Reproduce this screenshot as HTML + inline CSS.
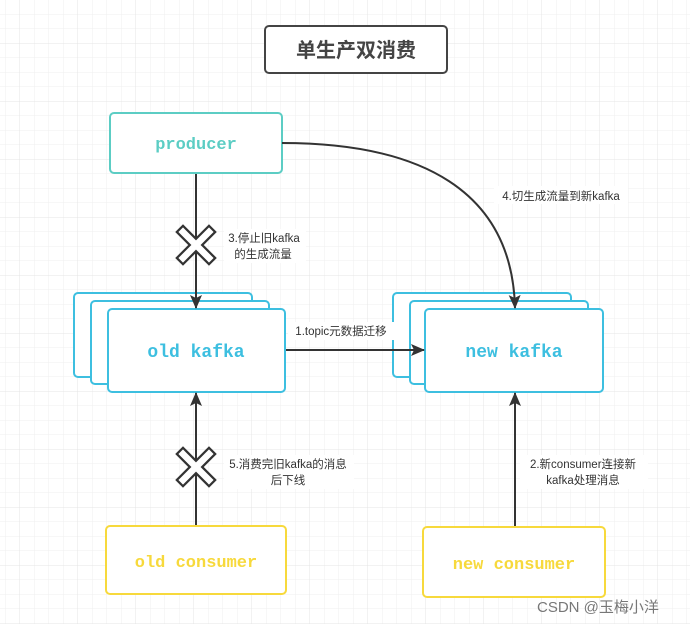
<!DOCTYPE html>
<html><head><meta charset="utf-8"><style>
html,body{margin:0;padding:0;background:#fff}
svg{display:block}
text{font-family:"Liberation Sans","Noto Sans CJK SC",sans-serif}
text.m{font-family:"Liberation Mono","DejaVu Sans Mono",monospace}
</style></head><body>
<svg width="690" height="624" viewBox="0 0 690 624" xmlns="http://www.w3.org/2000/svg">
<defs>
<pattern id="g" x="5" y="14" width="14.5" height="14.5" patternUnits="userSpaceOnUse">
<path d="M0 0H14.5M0 0V14.5" stroke="#efefef" stroke-width="1" fill="none"/>
</pattern>
<pattern id="G" x="19.5" y="43" width="58" height="58" patternUnits="userSpaceOnUse">
<path d="M0 0H58M0 0V58" stroke="#e4e4e4" stroke-width="1" fill="none"/>
</pattern>
<marker id="a" markerWidth="14" markerHeight="12" refX="13" refY="6" orient="auto" markerUnits="userSpaceOnUse">
<path d="M0 0L14 6L0 12L3 6Z" fill="#333"/>
</marker>
</defs>
<rect width="690" height="624" fill="url(#g)"/>
<rect width="690" height="624" fill="url(#G)"/>

<!-- title -->
<rect x="265" y="26" width="182" height="47" rx="4" fill="#fff" stroke="#444" stroke-width="2"/>
<text x="356" y="57" text-anchor="middle" font-size="20" font-weight="bold" fill="#444">单生产双消费</text>

<!-- producer -->
<rect x="110" y="113" width="172" height="60" rx="4" fill="#fff" stroke="#5ccdc4" stroke-width="2"/>
<text class="m" x="196" y="149" text-anchor="middle" font-size="17" font-weight="bold" fill="#5ccdc4">producer</text>

<!-- old kafka stack -->
<rect x="74" y="293" width="178" height="84" rx="4" fill="#fff" stroke="#3dbfe0" stroke-width="2"/>
<rect x="91" y="301" width="178" height="83" rx="4" fill="#fff" stroke="#3dbfe0" stroke-width="2"/>
<rect x="108" y="309" width="177" height="83" rx="4" fill="#fff" stroke="#3dbfe0" stroke-width="2"/>
<text class="m" x="196" y="357" text-anchor="middle" font-size="18" font-weight="bold" fill="#3dbfe0">old kafka</text>

<!-- new kafka stack -->
<rect x="393" y="293" width="178" height="84" rx="4" fill="#fff" stroke="#3dbfe0" stroke-width="2"/>
<rect x="410" y="301" width="178" height="83" rx="4" fill="#fff" stroke="#3dbfe0" stroke-width="2"/>
<rect x="425" y="309" width="178" height="83" rx="4" fill="#fff" stroke="#3dbfe0" stroke-width="2"/>
<text class="m" x="514" y="357" text-anchor="middle" font-size="18" font-weight="bold" fill="#3dbfe0">new kafka</text>

<!-- consumers -->
<rect x="106" y="526" width="180" height="68" rx="4" fill="#fff" stroke="#f7d93c" stroke-width="2"/>
<text class="m" x="196" y="567" text-anchor="middle" font-size="17" font-weight="bold" fill="#f7d93c">old consumer</text>
<rect x="423" y="527" width="182" height="70" rx="4" fill="#fff" stroke="#f7d93c" stroke-width="2"/>
<text class="m" x="514" y="569" text-anchor="middle" font-size="17" font-weight="bold" fill="#f7d93c">new consumer</text>

<!-- label backgrounds -->
<g fill="#fff">
<rect x="224" y="229" width="82" height="34"/>
<rect x="494" y="186" width="134" height="18"/>
<rect x="288" y="322" width="108" height="18"/>
<rect x="224" y="455" width="130" height="34"/>
<rect x="520" y="455" width="128" height="34"/>
</g>

<!-- arrows -->
<line x1="196" y1="174" x2="196" y2="308" stroke="#333" stroke-width="2" marker-end="url(#a)"/>
<path d="M282 143 C420 143 512 190 515 308" fill="none" stroke="#333" stroke-width="2" marker-end="url(#a)"/>
<line x1="286" y1="350" x2="424" y2="350" stroke="#333" stroke-width="2" marker-end="url(#a)"/>
<line x1="196" y1="525" x2="196" y2="393" stroke="#333" stroke-width="2" marker-end="url(#a)"/>
<line x1="515" y1="526" x2="515" y2="393" stroke="#333" stroke-width="2" marker-end="url(#a)"/>

<!-- X marks -->
<g stroke="#333" stroke-width="11" stroke-linecap="square"><path d="M183 232L209 258M209 232L183 258"/><path d="M183 454L209 480M209 454L183 480"/></g>
<g stroke="#fff" stroke-width="6.5" stroke-linecap="square"><path d="M183 232L209 258M209 232L183 258"/><path d="M183 454L209 480M209 454L183 480"/></g>

<!-- labels -->
<g font-size="11.5" fill="#333" text-anchor="middle">
<text x="264" y="242">3.停止旧kafka</text>
<text x="263" y="258">的生成流量</text>
<text x="561" y="200">4.切生成流量到新kafka</text>
<text x="341" y="335">1.topic元数据迁移</text>
<text x="288" y="468">5.消费完旧kafka的消息</text>
<text x="288" y="484">后下线</text>
<text x="583" y="468">2.新consumer连接新</text>
<text x="583" y="484">kafka处理消息</text>
</g>
<text x="537" y="612" font-size="15" fill="#777">CSDN @玉梅小洋</text>
</svg>
</body></html>
